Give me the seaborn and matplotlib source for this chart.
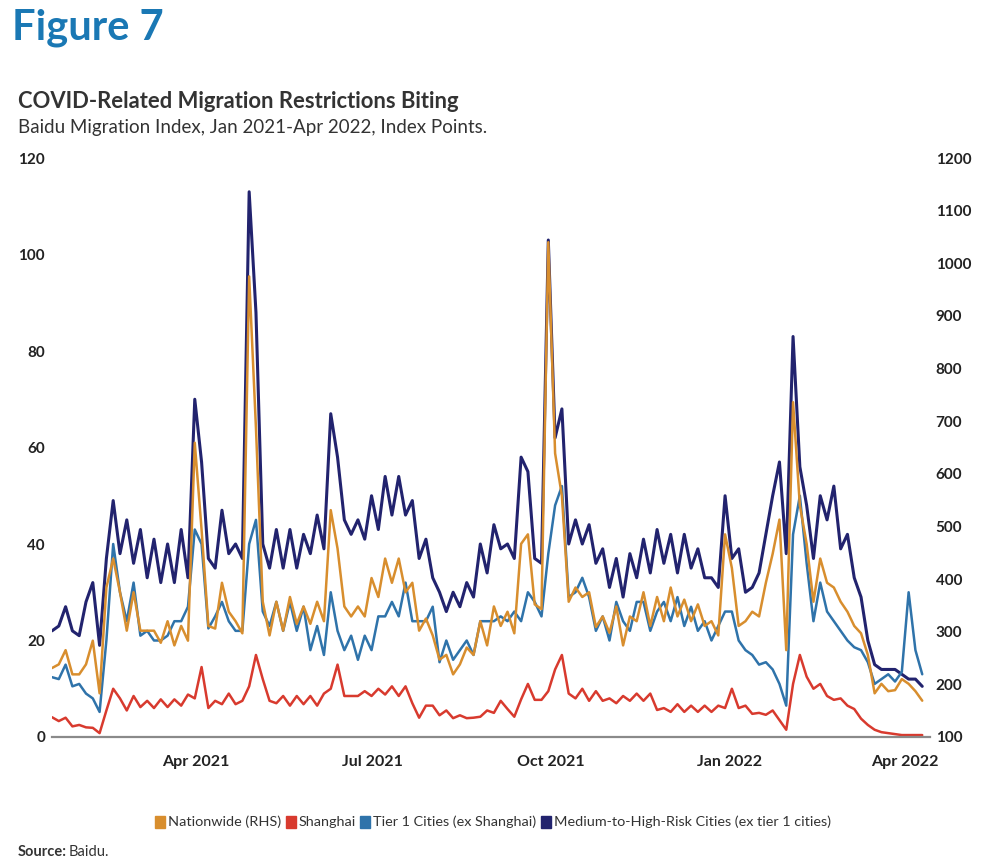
#!/usr/bin/env python
# -*- coding: utf-8 -*-

"""
Baidu migration index, Jan 2021 - Apr 2022
"""

import matplotlib.dates as mdates
import matplotlib.pyplot as plt
import pandas as pd
import seaborn as sns
from matplotlib.patches import Patch

# semiweekly readings (every 3.5 days) starting mid-January 2021
start = '2021-01-17'

# Medium-to-High-Risk Cities (ex tier 1 cities), LHS
risk_cities = [
    22, 23, 27, 22, 21, 28, 32, 19, 37, 49,
    38, 45, 36, 43, 33, 41, 32, 40, 32, 43,
    33, 70, 57, 37, 35, 47, 38, 40, 37, 113,
    88, 40, 35, 43, 35, 43, 35, 42, 38, 46,
    39, 67, 58, 45, 42, 45, 41, 50, 43, 54,
    46, 54, 46, 49, 37, 41, 33, 30, 26, 30,
    27, 32, 29, 40, 34, 44, 39, 40, 37, 58,
    55, 37, 36, 103, 62, 68, 40, 45, 40, 44,
    36, 39, 31, 37, 29, 38, 33, 41, 34, 43,
    36, 42, 34, 42, 35, 39, 33, 33, 31, 50,
    37, 39, 30, 31, 34, 42, 50, 57, 38, 83,
    56, 48, 37, 50, 45, 52, 39, 42, 33, 29,
    20, 15, 14, 14, 14, 13, 12, 12, 10.5,
]

# Tier 1 Cities (ex Shanghai), LHS
tier1 = [
    12.4, 12, 15, 10.5, 11, 9, 8, 5.2, 20, 40,
    30, 24, 32, 21, 22, 20, 20, 21, 24, 24,
    27, 43, 40, 22.5, 25, 28, 24, 22, 22, 40,
    45, 26, 23, 28, 22, 28, 22, 27, 18, 23,
    17, 30, 22, 18, 21, 16, 21, 18, 25, 25,
    28, 25, 32, 24, 24, 24, 27, 15.5, 20, 16,
    18, 20, 17, 24, 24, 24, 25, 24, 26, 24,
    30, 28, 25, 38, 48, 52, 29, 30, 33, 29,
    22, 25, 20, 28, 24, 22, 28, 28, 22, 26,
    28, 24, 29, 23, 27, 22, 24, 20, 23, 26,
    26, 20, 18, 17, 15, 15.5, 14, 11, 6.5, 42,
    50, 36, 24, 32, 26, 24, 22, 20, 18.6, 18,
    15.5, 11, 12, 13, 11.5, 13.5, 30, 18, 13,
]

# Shanghai, LHS
shanghai = [
    4.1, 3.3, 4, 2.2, 2.5, 2, 1.9, 0.8, 5.5, 10,
    8, 5.5, 8.5, 6.2, 7.5, 6, 7.8, 6.2, 7.8, 6.5,
    8.8, 8, 14.5, 6, 7.5, 6.8, 9, 6.8, 7.5, 10.5,
    17, 12, 7.5, 7, 8.5, 6.5, 8.5, 6.8, 8.5, 6.5,
    9, 10, 15, 8.5, 8.5, 8.5, 9.5, 8.5, 10, 8.8,
    10.5, 8.5, 10.5, 7, 4, 6.5, 6.5, 4.5, 5.5, 3.9,
    4.5, 3.9, 4, 4.2, 5.5, 5, 7.5, 5.8, 4.2, 7.8,
    11, 7.7, 7.7, 9.5, 14, 17, 9, 8, 10, 7.5,
    9.5, 7.5, 8, 7, 8.5, 7.5, 9, 7.5, 9, 5.6,
    6, 5.2, 6.8, 5.2, 6.5, 5.2, 6.5, 5.2, 6.5, 6,
    10, 6, 6.5, 4.8, 5, 4.6, 5.5, 3.5, 1.5, 11,
    17, 12.5, 10, 11, 8.5, 7.7, 8, 6.5, 5.8, 3.8,
    2.5, 1.5, 1, 0.8, 0.6, 0.4, 0.4, 0.4, 0.4,
]

# Nationwide, RHS
nationwide = [
    231, 238, 265, 219, 219, 238, 283, 183, 384, 439,
    375, 302, 375, 302, 302, 302, 279, 320, 274, 311,
    283, 659, 494, 311, 306, 393, 338, 320, 297, 975,
    687, 357, 293, 357, 302, 366, 315, 348, 315, 357,
    320, 531, 458, 348, 329, 348, 329, 402, 366, 439,
    393, 439, 375, 393, 302, 325, 293, 247, 256, 219,
    238, 270, 256, 320, 274, 348, 311, 338, 297, 467,
    485, 352, 343, 1040, 639, 558, 357, 384, 366, 375,
    309, 329, 298, 348, 274, 329, 320, 375, 311, 366,
    320, 384, 329, 361, 320, 352, 311, 320, 293, 485,
    421, 311, 320, 338, 329, 393, 448, 513, 265, 736,
    540, 467, 357, 439, 393, 384, 357, 338, 311, 297,
    256, 183, 201, 187, 189, 210, 201, 187, 169,
]

left_names = ['Shanghai', 'Tier 1 Cities (ex Shanghai)',
              'Medium-to-High-Risk Cities (ex tier 1 cities)']
rhs_name = 'Nationwide (RHS)'
colors = {
    rhs_name: '#D88E2E',
    'Shanghai': '#D83A2E',
    'Tier 1 Cities (ex Shanghai)': '#2F73AA',
    'Medium-to-High-Risk Cities (ex tier 1 cities)': '#22236E',
}
x_ticks = ['2021-04-01', '2021-07-01', '2021-10-01', '2022-01-01', '2022-04-01']


def main():
  dates = pd.date_range(start, periods=len(nationwide), freq='84h')
  left = pd.concat([
      pd.DataFrame({'date': dates, 'value': vals, 'series': name})
      for name, vals in zip(left_names, [shanghai, tier1, risk_cities])
  ])
  rhs = pd.DataFrame({'date': dates, 'value': nationwide})

  sns.set_theme(style='white')
  plt.rcParams['font.family'] = ['Lato', 'DejaVu Sans']
  fig = plt.figure(figsize=(9.88, 8.64), dpi=100)
  ax = fig.add_axes([52 / 988, 1 - 737 / 864, 878 / 988, 579 / 864])

  for name in reversed(left_names):
    lw = 2.2 if name.startswith('Medium') else 1.8
    sns.lineplot(data=left[left.series == name], x='date', y='value',
                 color=colors[name], lw=lw, ax=ax, legend=False)
  ax2 = ax.twinx()
  sns.lineplot(data=rhs, x='date', y='value', color=colors[rhs_name],
               lw=1.8, ax=ax2, legend=False)

  t0 = pd.Timestamp(start)
  ax.set_xlim(t0, t0 + pd.Timedelta(days=452))
  ax.set_ylim(0, 120)
  ax2.set_ylim(100, 1200)
  ax.set_yticks(range(0, 121, 20))
  ax2.set_yticks(range(100, 1201, 100))
  ax.set_xticks(pd.to_datetime(x_ticks))
  ax.xaxis.set_major_formatter(mdates.DateFormatter('%b %Y'))

  for a in (ax, ax2):
    a.set_xlabel('')
    a.set_ylabel('')
    for s in a.spines.values():
      s.set_visible(False)
    a.tick_params(length=0, labelsize=11, labelcolor='#222222')
    for lab in a.get_yticklabels() + a.get_xticklabels():
      lab.set_fontweight('bold')
  ax.spines['bottom'].set_visible(True)
  ax.spines['bottom'].set_color('#8a8a8a')
  ax.spines['bottom'].set_linewidth(1.6)
  ax.tick_params(axis='y', pad=5)
  ax2.tick_params(axis='y', pad=4)
  ax.tick_params(axis='x', pad=13, labelsize=11.5)
  ax.grid(False)
  ax2.grid(False)

  fig.text(12 / 988, 1 - 28 / 864, 'Figure 7', fontsize=30, fontweight='bold',
           color='#1A78B4', va='center', ha='left')
  fig.text(18 / 988, 1 - 101 / 864, 'COVID-Related Migration Restrictions Biting',
           fontsize=15.8, fontweight='bold', color='#333333', va='center')
  fig.text(18 / 988, 1 - 127 / 864,
           'Baidu Migration Index, Jan 2021-Apr 2022, Index Points.',
           fontsize=13.5, color='#333333', va='center')
  fig.text(18 / 988, 1 - 852 / 864, 'Source:', fontsize=10.5, fontweight='bold',
           color='#333333', va='center')
  fig.text(69 / 988, 1 - 852 / 864, 'Baidu.', fontsize=10.5,
           color='#333333', va='center')

  order = [rhs_name] + left_names
  handles = [Patch(color=colors[n], label=n) for n in order]
  fig.legend(handles=handles, loc='center', bbox_to_anchor=(493 / 988, 1 - 822 / 864),
             ncol=4, frameon=False, fontsize=10.4, handlelength=0.7,
             handleheight=0.9, handletextpad=0.2, columnspacing=0.3,
             labelcolor='#333333')

  plt.savefig('out.png', dpi=100)
  plt.close()


if __name__ == '__main__':
  main()
